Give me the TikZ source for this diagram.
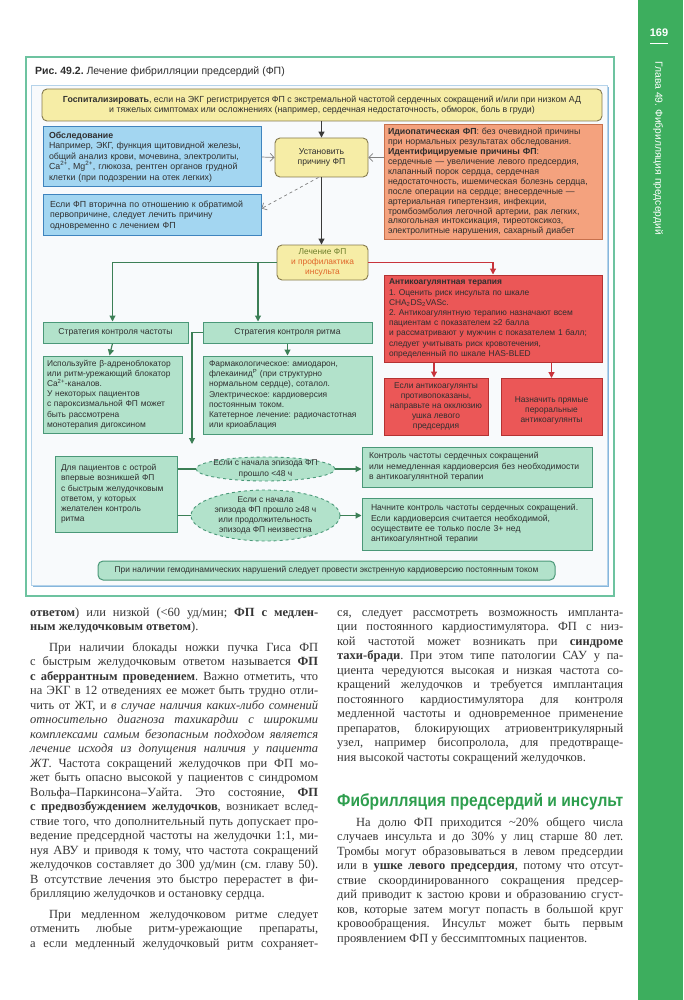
\documentclass[tikz,border=0pt]{standalone}
\usepackage{fontspec}
\setmainfont{Liberation Serif}
\newfontfamily\dsans{Liberation Sans}
\usepackage{graphicx}
\usetikzlibrary{arrows.meta,shapes.geometric}
\definecolor{frameg}{HTML}{6DC3A0}
\definecolor{panelb}{HTML}{B5D3EA}
\definecolor{panels}{HTML}{86B6DC}
\definecolor{panelf}{HTML}{F8FAFC}
\definecolor{yelf}{HTML}{F6EDA6}
\definecolor{yeld}{HTML}{857A4E}
\definecolor{bluef}{HTML}{A3D6F1}
\definecolor{blued}{HTML}{3F84BE}
\definecolor{salf}{HTML}{F4A27E}
\definecolor{sald}{HTML}{C7704C}
\definecolor{redf}{HTML}{EB5757}
\definecolor{redd}{HTML}{B43232}
\definecolor{grnf}{HTML}{B2E2CB}
\definecolor{grnd}{HTML}{4A9878}
\definecolor{grna}{HTML}{3C7F56}
\definecolor{reda}{HTML}{C8343C}
\definecolor{darka}{HTML}{3A3A3A}
\definecolor{txt}{HTML}{2F2F2F}
\definecolor{bodytxt}{HTML}{363636}
\definecolor{headg}{HTML}{2E9E4E}
\definecolor{bandg}{HTML}{3DAE5E}
\definecolor{olivet}{HTML}{6E7E2C}
\definecolor{orng}{HTML}{E0662A}
\newlength\cw
\newcommand{\J}[1]{\makebox[\cw][s]{#1}}
\frenchspacing
\tikzset{
 dfont/.style={font=\dsans\fontsize{8.4}{10.2}\selectfont, text=txt},
 bigfont/.style={font=\dsans\fontsize{8.8}{10.5}\selectfont},
 ybox/.style={dfont, draw=yeld, fill=yelf, line width=0.9pt, rounded corners=5pt, inner sep=0pt, align=center},
 bbox/.style={dfont, bigfont, draw=blued, fill=bluef, line width=1pt, inner sep=0pt, align=left},
 sbox/.style={dfont, draw=sald, fill=salf, line width=1pt, inner sep=0pt, align=left},
 rbox/.style={dfont, draw=redd, fill=redf, line width=1pt, inner sep=0pt},
 gbox/.style={dfont, draw=grnd, fill=grnf, line width=1pt, inner sep=0pt},
 ell/.style={ellipse, draw=grnd, fill=grnf, dashed, line width=0.9pt, inner sep=0pt},
 darr/.style={draw=darka, line width=1.1pt, -{Triangle[length=6pt,width=6pt]}},
 garr/.style={draw=grna, line width=1.1pt, -{Triangle[length=6pt,width=6pt]}},
 gline/.style={draw=grna, line width=1.1pt},
 rarr/.style={draw=reda, line width=1.1pt, -{Triangle[length=6pt,width=6pt]}},
 oarr/.style={draw=gray, line width=0.7pt, -{Straight Barb[length=4pt,width=8pt]}},
 body/.style={anchor=base west, inner sep=0pt, text=bodytxt},
}
\begin{document}
\begin{tikzpicture}[x=1pt,y=-1pt]
\useasboundingbox (0,0) rectangle (683,1000);
\fill[white] (0,0) rectangle (683,1000);
% side band
\fill[bandg] (638,0) rectangle (683,1000);
\node[text=white, font=\dsans\bfseries\fontsize{11}{13}\selectfont] (pg) at (659,33) {169};
\draw[white, line width=0.8pt] (650,43) -- (668,43);
\node[text=white, rotate=-90, anchor=west, font=\dsans\fontsize{10.3}{12}\selectfont] (chap) at (658,58) {Глава 49. Фибрилляция предсердий};
% figure frame
\draw[frameg, line width=1.3pt] (26,57) rectangle (614,596);
\node[anchor=base west, inner sep=0pt, text=txt, font=\dsans\fontsize{10.5}{12}\selectfont] (title) at (35,75) {\textbf{Рис. 49.2.} Лечение фибрилляции предсердий (ФП)};
\fill[panels] (33,87) rectangle (609,587);
\filldraw[fill=panelf, draw=panelb, line width=0.8pt] (31,85) rectangle (607,585);
% boxes
\node[ybox, bigfont, minimum width=560pt, minimum height=32pt] (top) at (322,105) {\textbf{Госпитализировать}, если на ЭКГ регистрируется ФП с экстремальной частотой сердечных сокращений и/или при низком АД\\и тяжелых симптомах или осложнениях (например, сердечная недостаточность, обморок, боль в груди)};
\node[bbox, minimum width=218pt, minimum height=60pt, text width=206pt] (obs) at (152,157) {\textbf{Обследование}\\Например, ЭКГ, функция щитовидной железы,\\общий анализ крови, мочевина, электролиты,\\Ca\textsuperscript{2+}, Mg\textsuperscript{2+}, глюкоза, рентген органов грудной\\клетки (при подозрении на отек легких)};
\node[bbox, minimum width=218pt, minimum height=41pt, text width=204pt] (sec) at (152,215.5) {Если ФП вторична по отношению к обратимой\\первопричине, следует лечить причину\\одновременно с лечением ФП};
\node[ybox, font=\dsans\fontsize{8.6}{10.4}\selectfont, minimum width=93pt, minimum height=39pt] (est) at (321.5,157.5) {Установить\\причину ФП};
\node[sbox, minimum width=218pt, minimum height=114pt, text width=210pt, font=\dsans\fontsize{8.8}{9.9}\selectfont] (cause) at (493,182) {\textbf{Идиопатическая ФП}: без очевидной причины\\при нормальных результатах обследования.\\\textbf{Идентифицируемые причины ФП}:\\сердечные — увеличение левого предсердия,\\клапанный порок сердца, сердечная\\недостаточность, ишемическая болезнь сердца,\\после операции на сердце; внесердечные —\\артериальная гипертензия, инфекции,\\тромбоэмболия легочной артерии, рак легких,\\алкогольная интоксикация, тиреотоксикоз,\\электролитные нарушения, сахарный диабет};
\node[ybox, font=\dsans\fontsize{8.4}{9.8}\selectfont, minimum width=91pt, minimum height=35pt] (treat) at (322.5,262.5) {\textcolor{olivet}{Лечение ФП}\\\textcolor{orng}{и профилактика}\\\textcolor{orng}{инсульта}};
\node[gbox, font=\dsans\fontsize{8.6}{10.4}\selectfont, minimum width=145pt, minimum height=21pt] (rate) at (115.5,332.5) {Стратегия контроля частоты};
\node[gbox, font=\dsans\fontsize{8.6}{10.4}\selectfont, minimum width=169pt, minimum height=21pt] (rhythm) at (287.5,332.5) {Стратегия контроля ритма};
\node[gbox, minimum width=139pt, minimum height=77pt, text width=131pt, align=left] (use) at (112.5,394.5) {Используйте β-адреноблокатор\\или ритм-урежающий блокатор\\Ca\textsuperscript{2+}-каналов.\\У некоторых пациентов\\с пароксизмальной ФП может\\быть рассмотрена\\монотерапия дигоксином};
\node[gbox, minimum width=169pt, minimum height=78pt, text width=157pt, align=left] (pharm) at (287.5,395) {Фармакологическое: амиодарон,\\флекаинид\textsuperscript{Р} (при структурно\\нормальном сердце), соталол.\\Электрическое: кардиоверсия\\постоянным током.\\Катетерное лечение: радиочастотная\\или криоаблация};
\node[rbox, minimum width=218pt, minimum height=87pt, text width=208pt, align=left] (anti) at (493,318.5) {\textbf{Антикоагулянтная терапия}\\1. Оценить риск инсульта по шкале\\CHA\textsubscript{2}DS\textsubscript{2}VASc.\\2. Антикоагулянтную терапию назначают всем\\пациентам с показателем ≥2 балла\\и рассматривают у мужчин с показателем 1 балл;\\следует учитывать риск кровотечения,\\определенный по шкале HAS-BLED};
\node[rbox, minimum width=104pt, minimum height=57pt, align=center] (laa) at (436,406.5) {Если антикоагулянты\\противопоказаны,\\направьте на окклюзию\\ушка левого\\предсердия};
\node[rbox, minimum width=101pt, minimum height=57pt, align=center, anchor=north] (doac) at (551.5,378) {\rule{0pt}{13pt}Назначить прямые\\пероральные\\антикоагулянты};
\node[gbox, minimum width=122pt, minimum height=76pt, text width=110pt, align=left] (acute) at (116,494) {Для пациентов с острой\\впервые возникшей ФП\\с быстрым желудочковым\\ответом, у которых\\желателен контроль\\ритма};
\node[ell, minimum width=139pt, minimum height=24pt] (e1) at (265.5,469) {};
\node[dfont, align=center, inner sep=0pt] (e1t) at (e1) {Если с начала эпизода ФП\\прошло <48 ч};
\node[ell, minimum width=149pt, minimum height=51pt] (e2) at (265.5,515.5) {};
\node[dfont, align=center, inner sep=0pt] (e2t) at (e2) {Если с начала\\эпизода ФП прошло ≥48 ч\\или продолжительность\\эпизода ФП неизвестна};
\node[gbox, font=\dsans\fontsize{8.6}{10.4}\selectfont, minimum width=230pt, minimum height=40pt, text width=216pt, align=left] (ctrl) at (477,467) {Контроль частоты сердечных сокращений\\или немедленная кардиоверсия без необходимости\\в антикоагулянтной терапии};
\node[gbox, font=\dsans\fontsize{8.6}{10.4}\selectfont, minimum width=230pt, minimum height=52pt, text width=212pt, align=left] (start) at (477,524) {Начните контроль частоты сердечных сокращений.\\Если кардиоверсия считается необходимой,\\осуществите ее только после 3+ нед\\антикоагулянтной терапии};
\node[gbox, rounded corners=5pt, minimum width=457pt, minimum height=19pt] (bot) at (326.5,570.5) {При наличии гемодинамических нарушений следует провести экстренную кардиоверсию постоянным током};
% connectors
\draw[darr] (est.north |- top.south) -- (est.north);
\draw[oarr] (obs.east) -- (est.west);
\draw[oarr] (cause.west |- est.east) -- (est.east);
\draw[oarr, dashed] ([xshift=-3pt]est.south) -- ([yshift=7pt]sec.east);
\draw[darr] (est.south) -- (est.south |- treat.north);
\coordinate (br) at (258,262.5);
\coordinate (rd) at (192,444);
\draw[garr] (treat.west) -| ([xshift=-3pt]rate.north);
\draw[garr] (br) -- (br |- rhythm.north);
\draw[garr] ([xshift=-3pt]rate.south) -- ([xshift=-3pt]use.north);
\draw[garr] (rhythm.south) -- (pharm.north);
\draw[garr] (rhythm.west) -| (rd);
\draw[rarr] (treat.east) -| (anti.north);
\draw[rarr] (anti.south -| 434,0) -- (laa.north -| 434,0);
\draw[rarr] (anti.south -| doac.north) -- (doac.north);
\draw[gline] (acute.east |- e1.west) -- (e1.west);
\draw[gline] (acute.east |- e2.west) -- (e2.west);
\draw[garr] (e1.east) -- (e1.east -| ctrl.west);
\draw[garr] (e2.east) -- (e2.east -| start.west);
% body text
\node[body] (colA) at (30,616) {\setlength\cw{288pt}\parbox[t]{288pt}{\fontsize{12.5}{14.5}\selectfont
\J{\textbf{ответом}) или низкой (<60 уд/мин; \textbf{ФП с медлен-}}\\
\textbf{ным желудочковым ответом}).\\[6pt]
\J{\hspace*{19pt}При наличии блокады ножки пучка Гиса ФП}\\
\J{с быстрым желудочковым ответом называется \textbf{ФП}}\\
\J{\textbf{с аберрантным проведением}. Важно отметить, что}\\
\J{на ЭКГ в 12 отведениях ее может быть трудно отли-}\\
\J{чить от ЖТ, и \textit{в случае наличия каких-либо сомнений}}\\
\J{\textit{относительно диагноза тахикардии с широкими}}\\
\J{\textit{комплексами самым безопасным подходом является}}\\
\J{\textit{лечение исходя из допущения наличия у пациента}}\\
\J{\textit{ЖТ}. Частота сокращений желудочков при ФП мо-}\\
\J{жет быть опасно высокой у пациентов с синдромом}\\
\J{Вольфа–Паркинсона–Уайта. Это состояние, \textbf{ФП}}\\
\J{\textbf{с предвозбуждением желудочков}, возникает вслед-}\\
\J{ствие того, что дополнительный путь допускает про-}\\
\J{ведение предсердной частоты на желудочки 1:1, ми-}\\
\J{нуя АВУ и приводя к тому, что частота сокращений}\\
\J{желудочков составляет до 300 уд/мин (см. главу 50).}\\
\J{В отсутствие лечения это быстро перерастет в фи-}\\
брилляцию желудочков и остановку сердца.\\[6pt]
\J{\hspace*{19pt}При медленном желудочковом ритме следует}\\
\J{отменить любые ритм-урежающие препараты,}\\
\J{а если медленный желудочковый ритм сохраняет-}}};
\node[body] (colB) at (337,616) {\setlength\cw{286pt}\parbox[t]{286pt}{\fontsize{12.5}{14.5}\selectfont
\J{ся, следует рассмотреть возможность импланта-}\\
\J{ции постоянного кардиостимулятора. ФП с низ-}\\
\J{кой частотой может возникать при \textbf{синдроме}}\\
\J{\textbf{тахи-бради}. При этом типе патологии САУ у па-}\\
\J{циента чередуются высокая и низкая частота со-}\\
\J{кращений желудочков и требуется имплантация}\\
\J{постоянного кардиостимулятора для контроля}\\
\J{медленной частоты и одновременное применение}\\
\J{препаратов, блокирующих атриовентрикулярный}\\
\J{узел, например бисопролола, для предотвраще-}\\
ния высокой частоты сокращений желудочков.}};
\node[anchor=base west, inner sep=0pt, text=headg] (head) at (337,806) {\resizebox{286pt}{13pt}{\dsans\bfseries Фибрилляция предсердий и инсульт}};
\node[body] (colC) at (337,826) {\setlength\cw{286pt}\parbox[t]{286pt}{\fontsize{12.5}{14.5}\selectfont
\J{\hspace*{19pt}На долю ФП приходится \textasciitilde20\% общего числа}\\
\J{случаев инсульта и до 30\% у лиц старше 80 лет.}\\
\J{Тромбы могут образовываться в левом предсердии}\\
\J{или в \textbf{ушке левого предсердия}, потому что отсут-}\\
\J{ствие скоординированного сокращения предсер-}\\
\J{дий приводит к застою крови и образованию сгуст-}\\
\J{ков, которые затем могут попасть в большой круг}\\
\J{кровообращения. Инсульт может быть первым}\\
проявлением ФП у бессимптомных пациентов.}};
\end{tikzpicture}
\end{document}
